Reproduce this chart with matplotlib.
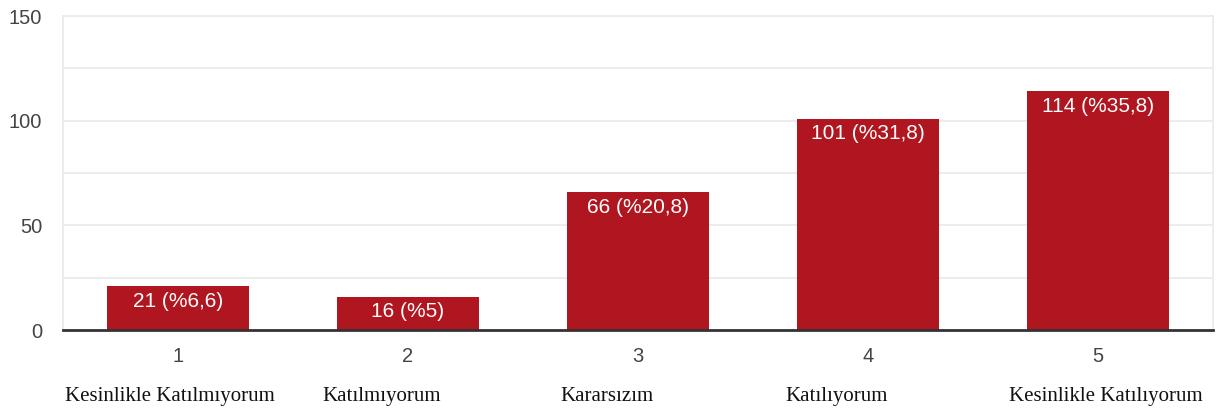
import matplotlib
matplotlib.use('Agg')
import matplotlib.pyplot as plt

# === DATA ===
categories = ['1', '2', '3', '4', '5']
counts = [21, 16, 66, 101, 114]
percents = ['6,6', '5', '20,8', '31,8', '35,8']
answer_names = ['Kesinlikle Katılmıyorum', 'Katılmıyorum', 'Kararsızım',
                'Katılıyorum', 'Kesinlikle Katılıyorum']
y_ticks = [0, 50, 100, 150]

# === STYLE ===
BAR_COLOR = '#b0161f'
GRID_COLOR = '#ebebeb'
TEXT_COLOR = '#444444'
name_x = [-0.035, 0.887, 1.865, 2.865, 4.035]  # where the long names sit

fig = plt.figure(figsize=(12.27, 4.12), dpi=100)
ax = fig.add_axes([0.0513, 0.199, 0.9373, 0.762])

x = list(range(len(categories)))
bars = ax.bar(x, counts, width=0.62, color=BAR_COLOR, zorder=3)

for b, c, p in zip(bars, counts, percents):
    ax.annotate(f'{c} (%{p})', (b.get_x() + b.get_width() / 2, c),
                xytext=(0, -11), textcoords='offset points',
                ha='center', va='center', color='white',
                fontsize=15, family='Liberation Sans', zorder=4)

ax.set_xlim(-0.5, len(categories) - 0.5)
ax.set_ylim(0, 150)
ax.set_yticks(y_ticks)
ax.set_yticks([25, 75, 125], minor=True)
ax.set_xticks(x)
ax.set_xticklabels(categories)
ax.tick_params(axis='both', which='both', length=0, labelsize=14.5, labelcolor=TEXT_COLOR)
ax.tick_params(axis='y', pad=15)
ax.tick_params(axis='x', pad=12)
for lab in ax.get_xticklabels() + ax.get_yticklabels():
    lab.set_family('Liberation Sans')

ax.grid(axis='y', which='both', color=GRID_COLOR, lw=1.3, zorder=0)
for side in ['left', 'right', 'top']:
    ax.spines[side].set_color(GRID_COLOR)
    ax.spines[side].set_linewidth(1.3)
ax.spines['bottom'].set_color('#333333')
ax.spines['bottom'].set_linewidth(2)
ax.spines['bottom'].set_zorder(5)

for nx, name in zip(name_x, answer_names):
    ax.text(nx, -32, name, ha='center', va='center', fontsize=15,
            family='Liberation Serif', color='#111111', clip_on=False)

fig.savefig('out.png', dpi=100, facecolor='white')
